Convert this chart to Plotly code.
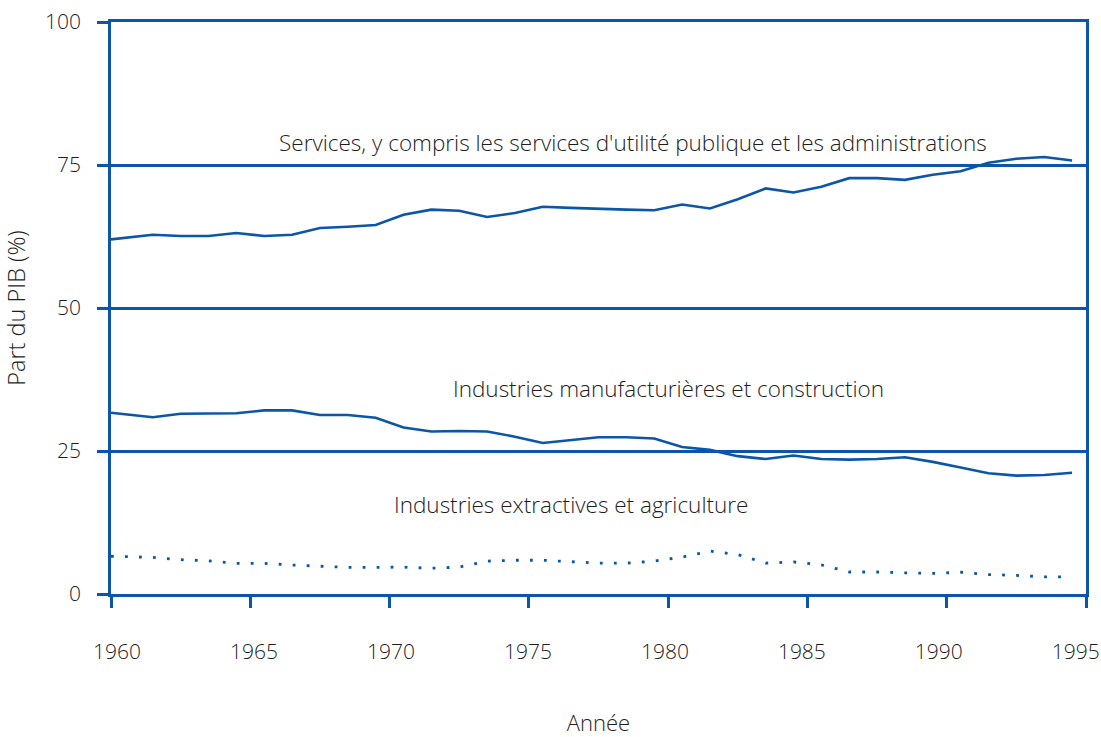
import plotly.graph_objects as go

years = [1960, 1961.5, 1962.5, 1963.5, 1964.5, 1965.5, 1966.5, 1967.5, 1968.5, 1969.5,
         1970.5, 1971.5, 1972.5, 1973.5, 1974.5, 1975.5, 1976.5, 1977.5, 1978.5, 1979.5,
         1980.5, 1981.5, 1982.5, 1983.5, 1984.5, 1985.5, 1986.5, 1987.5, 1988.5, 1989.5,
         1990.5, 1991.5, 1992.5, 1993.5, 1994.5]

services = [62.0, 62.8, 62.6, 62.6, 63.1, 62.6, 62.8, 64.0, 64.2, 64.5,
            66.3, 67.2, 67.0, 65.9, 66.6, 67.7, 67.5, 67.3, 67.2, 67.1,
            68.1, 67.4, 69.0, 70.9, 70.2, 71.2, 72.7, 72.7, 72.4, 73.3,
            73.9, 75.4, 76.1, 76.4, 75.8]

manufacturing = [31.7, 30.9, 31.5, 31.6, 31.6, 32.1, 32.1, 31.3, 31.3, 30.8,
                 29.1, 28.4, 28.5, 28.4, 27.5, 26.4, 26.9, 27.4, 27.4, 27.2,
                 25.7, 25.2, 24.1, 23.6, 24.2, 23.6, 23.5, 23.6, 23.9, 23.1,
                 22.1, 21.1, 20.7, 20.8, 21.2]

agriculture = [6.6, 6.4, 6.0, 5.8, 5.35, 5.35, 5.07, 4.8, 4.65, 4.65,
               4.7, 4.5, 4.7, 5.75, 5.9, 5.9, 5.6, 5.4, 5.4, 5.75,
               6.45, 7.5, 6.9, 5.4, 5.6, 5.1, 3.85, 3.85, 3.7, 3.6,
               3.8, 3.4, 3.25, 3.0, 3.0]

labels = ["Services, y compris les services d'utilité publique et les administrations",
          "Industries manufacturières et construction",
          "Industries extractives et agriculture"]
label_x = [1978.75, 1980.0, 1976.5]
label_y = [78.9, 36.0, 15.6]

x_ticks = [1960, 1965, 1970, 1975, 1980, 1985, 1990, 1995]
y_ticks = [0, 25, 50, 75, 100]

BLUE = "#0b56a6"
TXT = "#1e1e1e"
FONT = "Open Sans"
FS = 22

fig = go.Figure()
fig.add_trace(go.Scatter(x=years, y=services, mode="lines",
                         line=dict(color=BLUE, width=2.6), name=labels[0]))
fig.add_trace(go.Scatter(x=years, y=manufacturing, mode="lines",
                         line=dict(color=BLUE, width=2.6), name=labels[1]))
fig.add_trace(go.Scatter(x=years, y=agriculture, mode="lines",
                         line=dict(color=BLUE, width=2.8, dash="2.8px,11.2px"), name=labels[2]))
# invisible helper trace so the label axis is drawn
fig.add_trace(go.Scatter(x=x_ticks, y=[None] * len(x_ticks), xaxis="x2", mode="lines",
                         hoverinfo="skip", showlegend=False))

for t, x, y in zip(labels, label_x, label_y):
    fig.add_annotation(x=x, y=y, text=t, showarrow=False, xanchor="center", yanchor="middle",
                       font=dict(family=FONT, size=22.5, color=TXT, weight=300))

fig.update_layout(
    width=1101, height=737,
    margin=dict(l=111, r=15, t=22, b=143),
    plot_bgcolor="white", paper_bgcolor="white",
    showlegend=False,
    font=dict(family=FONT, size=FS, color=TXT, weight=300),
    xaxis=dict(
        range=[1960, 1995], tickvals=x_ticks, ticks="outside", ticklen=11, tickwidth=2.5,
        tickcolor=BLUE, showline=True, linecolor=BLUE, linewidth=2.5, mirror=True,
        showgrid=False, zeroline=False, showticklabels=False, automargin=False,
    ),
    xaxis2=dict(
        overlaying="x", side="bottom", range=[1959.781, 1995.372], tickvals=x_ticks,
        ticks="", showline=False, showgrid=False, zeroline=False, automargin=False,
        ticklabelstandoff=43, ticklabeloverflow="allow",
        tickfont=dict(family=FONT, size=FS - 1, color=TXT, weight=300),
        title=dict(text="Année", standoff=58, font=dict(family=FONT, size=FS, color=TXT, weight=300)),
    ),
    yaxis=dict(
        range=[0, 100], tickvals=y_ticks, ticks="outside", ticklen=11, tickwidth=2.5,
        tickcolor=BLUE, showline=True, linecolor=BLUE, linewidth=2.5, mirror=True,
        showgrid=True, gridcolor=BLUE, gridwidth=2.5, zeroline=False, ticklabelstandoff=12,
        automargin=False, ticklabeloverflow="allow",
        tickfont=dict(family=FONT, size=FS - 1, color=TXT, weight=300),
        title=dict(text="Part du PIB (%)", standoff=17, font=dict(family=FONT, size=23.5, color=TXT, weight=300)),
    ),
)

fig.write_html("out.html", config={"displayModeBar": False},
               post_script="document.body.style.margin='0';")
